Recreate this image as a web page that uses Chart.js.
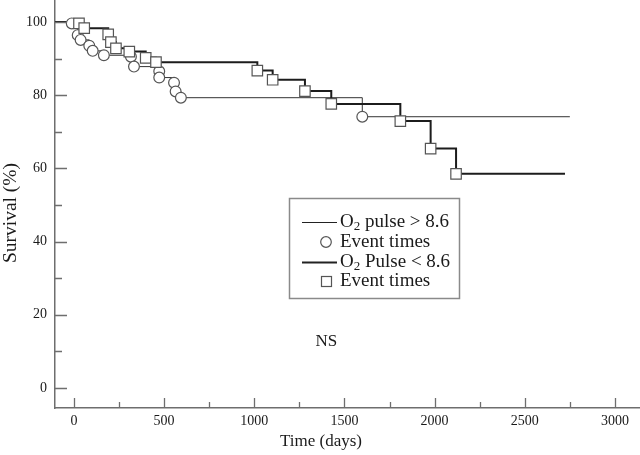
<!DOCTYPE html>
<html><head><meta charset="utf-8">
<script src="https://cdn.jsdelivr.net/npm/chart.js@4/dist/chart.umd.min.js"></script>
<style>html,body{margin:0;padding:0;background:#fff}</style>
</head><body>
<canvas id="c" width="640" height="455"></canvas>
<script>
// ---- data ----
const xMajorTicks = [0, 500, 1000, 1500, 2000, 2500, 3000];
const xMinorTicks = [250, 750, 1250, 1750, 2250, 2750];
const yMajorTicks = [0, 20, 40, 60, 80, 100];
const yMinorTicks = [10, 30, 50, 70, 90];

// O2 pulse > 8.6 (thin line, circles)
const highDays = [-12, 21, 37, 85, 104, 166, 316, 333, 473, 473, 555, 564, 593, 1599];
const highSurv = [99.6, 96.4, 95.1, 93.5, 92.1, 90.9, 90.5, 87.8, 86.5, 84.8, 83.4, 81.0, 79.3, 74.1];
const highEnd = 2750;

// O2 Pulse < 8.6 (thick line, squares)
const lowDays = [28, 57, 190, 205, 233, 307, 398, 455, 1017, 1102, 1281, 1427, 1810, 1978, 2119];
const lowSurv = [99.6, 98.3, 96.6, 94.5, 92.8, 91.9, 90.2, 89.0, 86.7, 84.2, 81.1, 77.6, 72.9, 65.4, 58.5];
const lowEnd = 2723;

const startSurv = 100;
const xRange = [-105, 3139];
const yRange = [-5.5, 106];

const legendLabels = [
  {base: 'O', sub: '2', rest: ' pulse > 8.6'},
  {text: 'Event times'},
  {base: 'O', sub: '2', rest: ' Pulse < 8.6'},
  {text: 'Event times'}
];
const note = {text: 'NS', day: 1400, surv: 12.8};

// ---- build ----
function curve(days, surv, end) {
  const pts = [{x: xRange[0], y: startSurv}];
  days.forEach((d, i) => pts.push({x: d, y: surv[i]}));
  pts.push({x: end, y: surv[surv.length - 1]});
  return pts;
}
function marks(days, surv) { return days.map((d, i) => ({x: d, y: surv[i]})); }

const SERIF = '"Liberation Serif", "Times New Roman", serif';
const AXIS = '#6e6e6e';
const MARK = '#555';

const deco = {
  id: 'deco',
  afterDraw(chart) {
    const ctx = chart.ctx, xs = chart.scales.x, ys = chart.scales.y;
    const ca = chart.chartArea;
    ctx.save();
    ctx.strokeStyle = AXIS; ctx.lineWidth = 1.3;
    ctx.beginPath();
    yMajorTicks.forEach(v => { const p = Math.round(ys.getPixelForValue(v)) + 0.5; ctx.moveTo(ca.left, p); ctx.lineTo(ca.left + 12, p); });
    yMinorTicks.forEach(v => { const p = Math.round(ys.getPixelForValue(v)) + 0.5; ctx.moveTo(ca.left, p); ctx.lineTo(ca.left + 7, p); });
    xMajorTicks.forEach(v => { const p = Math.round(xs.getPixelForValue(v)) + 0.5; ctx.moveTo(p, ca.bottom); ctx.lineTo(p, ca.bottom - 10); });
    xMinorTicks.forEach(v => { const p = Math.round(xs.getPixelForValue(v)) + 0.5; ctx.moveTo(p, ca.bottom); ctx.lineTo(p, ca.bottom - 6); });
    ctx.stroke();

    // axis titles
    ctx.fillStyle = '#1a1a1a';
    ctx.font = '17px ' + SERIF;
    ctx.textAlign = 'center'; ctx.textBaseline = 'middle';
    ctx.fillText('Time (days)', 321, 442);
    ctx.save();
    ctx.translate(11, 213); ctx.rotate(-Math.PI / 2);
    ctx.font = '19.5px ' + SERIF;
    ctx.fillText('Survival (%)', 0, 0);
    ctx.restore();

    // NS
    ctx.font = '17px ' + SERIF;
    ctx.fillText(note.text, xs.getPixelForValue(note.day), ys.getPixelForValue(note.surv));

    // legend
    ctx.strokeStyle = '#8a8a8a'; ctx.lineWidth = 1.5;
    ctx.strokeRect(289.5, 198.5, 170, 100);
    const rowsY = [222, 242, 262, 281];
    const tx = 340;
    ctx.textAlign = 'left'; ctx.textBaseline = 'middle';
    rowsY.forEach((y, i) => {
      const it = legendLabels[i];
      if (i === 0 || i === 2) {
        ctx.strokeStyle = '#222'; ctx.lineWidth = i === 0 ? 1 : 2;
        ctx.beginPath(); ctx.moveTo(302, y + 0.5); ctx.lineTo(337, y + 0.5); ctx.stroke();
      } else if (i === 1) {
        ctx.strokeStyle = MARK; ctx.lineWidth = 1.2; ctx.fillStyle = '#fff';
        ctx.beginPath(); ctx.arc(326, y, 5.3, 0, Math.PI * 2); ctx.fill(); ctx.stroke();
      } else {
        ctx.strokeStyle = MARK; ctx.lineWidth = 1.2; ctx.fillStyle = '#fff';
        ctx.fillRect(321, y - 5, 10, 10); ctx.strokeRect(321.5, y - 4.5, 10, 10);
      }
      ctx.fillStyle = '#1a1a1a';
      ctx.font = '19px ' + SERIF;
      if (it.text) {
        ctx.fillText(it.text, tx, y);
      } else {
        ctx.fillText(it.base, tx, y);
        let w = ctx.measureText(it.base).width;
        ctx.font = '13px ' + SERIF;
        ctx.fillText(it.sub, tx + w, y + 5);
        w += ctx.measureText(it.sub).width;
        ctx.font = '19px ' + SERIF;
        ctx.fillText(it.rest, tx + w, y);
      }
    });
    ctx.restore();
  }
};

function noPad(s) { s.paddingTop = 0; s.paddingBottom = 0; s.paddingLeft = 0; s.paddingRight = 0; }

new Chart(document.getElementById('c'), {
  type: 'line',
  data: {
    datasets: [
      {label: 'Event times (<8.6)', data: marks(lowDays, lowSurv), showLine: false,
        pointStyle: 'rect', pointRadius: 7.4, pointBorderColor: MARK, pointBackgroundColor: '#fff', pointBorderWidth: 1.2},
      {label: 'Event times (>8.6)', data: marks(highDays, highSurv), showLine: false,
        pointStyle: 'circle', pointRadius: 5.4, pointBorderColor: MARK, pointBackgroundColor: '#fff', pointBorderWidth: 1.2},
      {label: 'O2 Pulse < 8.6', data: curve(lowDays, lowSurv, lowEnd), stepped: 'before',
        borderColor: '#1c1c1c', borderWidth: 2, pointRadius: 0, fill: false},
      {label: 'O2 pulse > 8.6', data: curve(highDays, highSurv, highEnd), stepped: 'before',
        borderColor: '#333', borderWidth: 1, pointRadius: 0, fill: false}
    ]
  },
  options: {
    responsive: false, animation: false, devicePixelRatio: 1,
    layout: {padding: 0, autoPadding: false},
    plugins: {legend: {display: false}, tooltip: {enabled: false}},
    scales: {
      x: {
        type: 'linear', position: 'bottom', min: xRange[0], max: xRange[1],
        afterBuildTicks: s => { s.ticks = xMajorTicks.map(v => ({value: v})); },
        afterFit: s => { s.height = 47; noPad(s); },
        grid: {display: false, drawTicks: false},
        border: {display: true, color: AXIS, width: 1.5},
        ticks: {padding: 5, color: '#1a1a1a', font: {family: SERIF, size: 14}, maxRotation: 0, autoSkip: false,
          callback: v => String(v)}
      },
      y: {
        type: 'linear', position: 'left', min: yRange[0], max: yRange[1],
        afterBuildTicks: s => { s.ticks = yMajorTicks.map(v => ({value: v})); },
        afterFit: s => { s.width = 55; noPad(s); },
        grid: {display: false, drawTicks: false},
        border: {display: true, color: AXIS, width: 1.5},
        ticks: {padding: 8, color: '#1a1a1a', font: {family: SERIF, size: 14}, autoSkip: false,
          callback: v => String(v)}
      }
    }
  },
  plugins: [deco]
});
</script>
</body></html>
